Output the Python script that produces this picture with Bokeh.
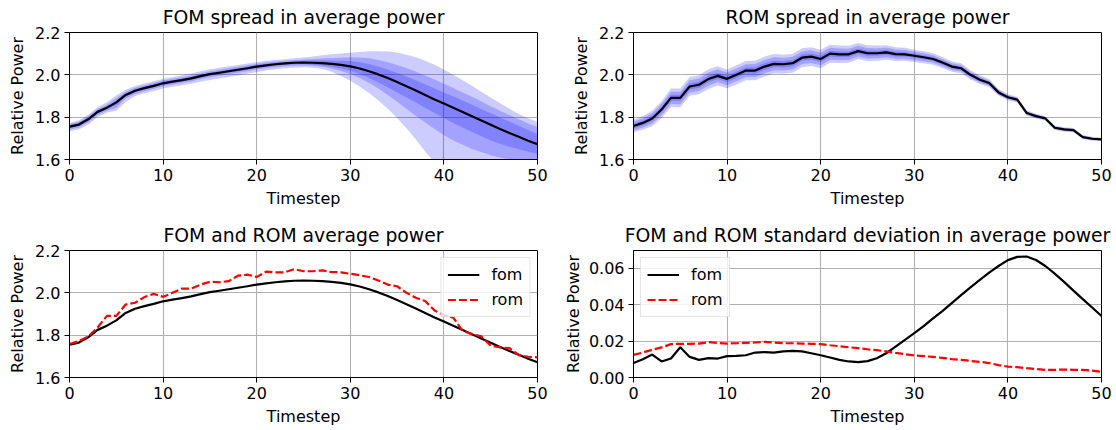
from bokeh.plotting import figure
from bokeh.models import Range1d, FixedTicker, NumeralTickFormatter
from bokeh.layouts import gridplot
from bokeh.embed import file_html
from bokeh.resources import INLINE

FONT = "DejaVu Sans"

# ---------------- data ----------------
timestep = list(range(51))

x_ticks = [0, 10, 20, 30, 40, 50]
power_ticks = [1.6, 1.8, 2.0, 2.2]
std_ticks = [0.0, 0.02, 0.04, 0.06]

fom_mean = [1.755, 1.765, 1.79, 1.825, 1.845, 1.87, 1.905, 1.925, 1.937, 1.948,
            1.96, 1.968, 1.975, 1.983, 1.994, 2.003, 2.01, 2.017, 2.024, 2.031,
            2.039, 2.045, 2.05, 2.054, 2.057, 2.058, 2.057, 2.055, 2.052, 2.047,
            2.04, 2.03, 2.017, 2.002, 1.985, 1.966, 1.946, 1.926, 1.905, 1.884,
            1.864, 1.844, 1.824, 1.804, 1.784, 1.764, 1.744, 1.725, 1.707, 1.689, 1.672]

fom_outer_hi = [1.773, 1.785, 1.812, 1.848, 1.87, 1.902, 1.93, 1.947, 1.959, 1.97,
                1.982, 1.99, 1.998, 2.006, 2.017, 2.026, 2.033, 2.04, 2.047, 2.053,
                2.06, 2.066, 2.07, 2.074, 2.078, 2.082,
                2.087, 2.092, 2.097, 2.101, 2.104, 2.108, 2.111, 2.112, 2.11, 2.105,
                2.095, 2.083, 2.067, 2.048, 2.025, 2.0, 1.975, 1.948, 1.92, 1.893,
                1.866, 1.84, 1.815, 1.795, 1.778]
fom_outer_lo = [1.733, 1.742, 1.765, 1.80, 1.822, 1.83, 1.872, 1.9, 1.913, 1.924,
                1.935, 1.944, 1.951, 1.958, 1.967, 1.976, 1.983, 1.99, 1.997, 2.005,
                2.013, 2.02, 2.026, 2.031, 2.034, 2.036,
                2.034, 2.027, 2.014, 1.995, 1.972, 1.945, 1.914, 1.879, 1.84, 1.796,
                1.748, 1.694, 1.638, 1.585, 1.55, 1.53, 1.51, 1.49, 1.475, 1.46,
                1.45, 1.44, 1.435, 1.43, 1.425]
fom_mid_hi = [1.768, 1.778, 1.804, 1.839, 1.86, 1.89, 1.92, 1.939, 1.951, 1.962,
              1.974, 1.982, 1.989, 1.997, 2.008, 2.017, 2.024, 2.031, 2.038, 2.045,
              2.052, 2.058, 2.063, 2.067, 2.07, 2.073,
              2.075, 2.077, 2.079, 2.081, 2.083, 2.082, 2.078, 2.07, 2.06, 2.047,
              2.032, 2.015, 1.997, 1.978, 1.958, 1.938, 1.917, 1.896, 1.874, 1.852,
              1.83, 1.81, 1.79, 1.77, 1.753]
fom_mid_lo = [1.741, 1.751, 1.775, 1.81, 1.83, 1.845, 1.888, 1.91, 1.923, 1.934,
              1.946, 1.954, 1.961, 1.969, 1.98, 1.989, 1.996, 2.003, 2.01, 2.017,
              2.025, 2.031, 2.036, 2.04, 2.043, 2.044,
              2.043, 2.038, 2.03, 2.018, 2.004, 1.985, 1.962, 1.935, 1.905, 1.873,
              1.84, 1.807, 1.775, 1.744, 1.715, 1.69, 1.67, 1.65, 1.635, 1.62,
              1.61, 1.60, 1.59, 1.585, 1.58]
fom_in_hi = [1.762, 1.772, 1.797, 1.832, 1.852, 1.878, 1.912, 1.932, 1.944, 1.955,
             1.967, 1.975, 1.982, 1.99, 2.001, 2.01, 2.017, 2.024, 2.031, 2.038,
             2.046, 2.052, 2.057, 2.061, 2.064, 2.066,
             2.068, 2.068, 2.067, 2.066, 2.065, 2.06, 2.051, 2.039, 2.025, 2.009,
             1.992, 1.974, 1.955, 1.936, 1.917, 1.898, 1.879, 1.859, 1.839, 1.819,
             1.799, 1.779, 1.759, 1.739, 1.72]
fom_in_lo = [1.748, 1.758, 1.783, 1.818, 1.838, 1.858, 1.897, 1.918, 1.93, 1.941,
             1.953, 1.961, 1.968, 1.976, 1.987, 1.996, 2.003, 2.01, 2.017, 2.024,
             2.032, 2.038, 2.043, 2.047, 2.05, 2.051,
             2.048, 2.044, 2.038, 2.03, 2.02, 2.004, 1.985, 1.964, 1.941, 1.917,
             1.893, 1.869, 1.845, 1.82, 1.796, 1.773, 1.751, 1.73, 1.71, 1.69,
             1.675, 1.66, 1.648, 1.637, 1.627]

rom_mean = [1.758, 1.773, 1.794, 1.836, 1.891, 1.891, 1.945, 1.953, 1.98, 1.995,
            1.981, 2.0, 2.02, 2.02, 2.039, 2.052, 2.05, 2.055, 2.081, 2.086,
            2.075, 2.1, 2.097, 2.097, 2.112, 2.102, 2.102, 2.106, 2.098, 2.097,
            2.09, 2.083, 2.075, 2.058, 2.039, 2.031, 2.0, 1.977, 1.961, 1.917,
            1.894, 1.883, 1.82, 1.805, 1.794, 1.75, 1.742, 1.739, 1.706, 1.698, 1.695]

fom_std = [0.0079, 0.010, 0.0126, 0.0088, 0.0104, 0.0166, 0.0113, 0.0097, 0.0106, 0.0104,
           0.0117, 0.0119, 0.0122, 0.0137, 0.0139, 0.0137, 0.0143, 0.0146, 0.0143, 0.0133,
           0.0122, 0.011, 0.0097, 0.0088, 0.0084, 0.009, 0.0106, 0.0133, 0.017, 0.0207,
           0.0243, 0.0282, 0.0324, 0.0364, 0.0408, 0.0452, 0.0495, 0.0536, 0.0576, 0.0612,
           0.0644, 0.0662, 0.0664, 0.0645, 0.0612, 0.057, 0.0525, 0.0477, 0.043, 0.0384, 0.0338]

rom_std = [0.0124, 0.0137, 0.0152, 0.0165, 0.0183, 0.0185, 0.0185, 0.0186, 0.0194, 0.019,
           0.0186, 0.0188, 0.019, 0.0192, 0.0196, 0.0192, 0.0188, 0.0188, 0.0186, 0.0185,
           0.0183, 0.0177, 0.0172, 0.0166, 0.0161, 0.0155, 0.015, 0.0143, 0.0135, 0.0128,
           0.0121, 0.0117, 0.0113, 0.0108, 0.0101, 0.0097, 0.0091, 0.0086, 0.0079, 0.0068,
           0.006, 0.0057, 0.0051, 0.0046, 0.0042, 0.0042, 0.0044, 0.0042, 0.0042, 0.0038, 0.0031]

rom_band_widths = [0.8, 1.6, 2.4]  # band half-widths in units of ROM std

# ---------------- styling helpers ----------------
LABEL_SIZE = "16px"
TITLE_SIZE = "18.8px"
LW = 2.2


def make_fig(title, y_lo, y_hi, yticks, fmt, left, right, top, bottom):
    p = figure(frame_width=468, frame_height=127,
               min_border_left=left, min_border_right=right,
               min_border_top=top, min_border_bottom=bottom,
               x_range=Range1d(0, 50), y_range=Range1d(y_lo, y_hi),
               output_backend="svg", toolbar_location=None, title=title)
    p.background_fill_color = "white"
    p.border_fill_color = "white"
    p.outline_line_color = "black"
    p.outline_line_width = 1
    p.outline_line_alpha = 1
    p.title.text_font = FONT
    p.title.text_font_size = TITLE_SIZE
    p.title.text_font_style = "normal"
    p.title.text_color = "black"
    p.title.align = "center"
    p.title.standoff = 9
    p.xaxis.ticker = FixedTicker(ticks=x_ticks)
    p.yaxis.ticker = FixedTicker(ticks=yticks)
    p.yaxis.formatter = NumeralTickFormatter(format=fmt)
    p.xaxis.axis_label = "Timestep"
    p.yaxis.axis_label = "Relative Power"
    for ax in (p.xaxis, p.yaxis):
        ax.axis_label_text_font = FONT
        ax.axis_label_text_font_size = LABEL_SIZE
        ax.axis_label_text_font_style = "normal"
        ax.axis_label_text_color = "black"
        ax.major_label_text_font = FONT
        ax.major_label_text_font_size = LABEL_SIZE
        ax.major_label_text_color = "black"
        ax.major_tick_in = 0
        ax.major_tick_out = 5
        ax.minor_tick_in = 0
        ax.minor_tick_out = 0
        ax.axis_line_color = "black"
        ax.major_tick_line_color = "black"
        ax.major_label_standoff = 4
        ax.axis_label_standoff = 5
    for g in (p.xgrid, p.ygrid):
        g.grid_line_color = "#b0b0b0"
        g.grid_line_width = 1.1
    return p


def style_legend(p, loc):
    lg = p.legend[0]
    lg.location = loc
    lg.margin = 7
    lg.padding = 6
    lg.spacing = 4
    lg.glyph_width = 32
    lg.glyph_height = 21
    lg.label_height = 21
    lg.label_standoff = 12
    lg.label_text_font = FONT
    lg.label_text_font_size = LABEL_SIZE
    lg.label_text_color = "black"
    lg.border_line_color = "#cccccc"
    lg.border_line_width = 1
    lg.background_fill_alpha = 0.8


BLUE = "#0000ff"
BAND_ALPHA = 0.2

# ---------------- panel 1: FOM spread ----------------
p1 = make_fig("FOM spread in average power", 1.6, 2.2, power_ticks, "0.0", 69, 23, 32, 56)
for lo, hi in ((fom_outer_lo, fom_outer_hi), (fom_mid_lo, fom_mid_hi), (fom_in_lo, fom_in_hi)):
    p1.varea(x=timestep, y1=lo, y2=hi, fill_color=BLUE, fill_alpha=BAND_ALPHA)
p1.line(timestep, fom_mean, line_color="black", line_width=LW)

# ---------------- panel 2: ROM spread ----------------
p2 = make_fig("ROM spread in average power", 1.6, 2.2, power_ticks, "0.0", 73, 15, 32, 56)
for k in rom_band_widths:
    lo = [m - k * s for m, s in zip(rom_mean, rom_std)]
    hi = [m + k * s for m, s in zip(rom_mean, rom_std)]
    p2.varea(x=timestep, y1=lo, y2=hi, fill_color=BLUE, fill_alpha=BAND_ALPHA)
p2.line(timestep, rom_mean, line_color="black", line_width=LW)

# ---------------- panel 3: means ----------------
p3 = make_fig("FOM and ROM average power", 1.6, 2.2, power_ticks, "0.0", 69, 23, 35, 53)
p3.line(timestep, fom_mean, line_color="black", line_width=LW, legend_label="fom")
p3.line(timestep, rom_mean, line_color="#ff0000", line_width=LW, line_dash="8 3", legend_label="rom")
style_legend(p3, "top_right")

# ---------------- panel 4: standard deviations ----------------
p4 = make_fig("FOM and ROM standard deviation in average power", 0.0, 0.0697, std_ticks, "0.00", 73, 15, 35, 53)
p4.yaxis.axis_label_standoff = 3
p4.line(timestep, fom_std, line_color="black", line_width=LW, legend_label="fom")
p4.line(timestep, rom_std, line_color="#ff0000", line_width=LW, line_dash="8 3", legend_label="rom")
style_legend(p4, "top_left")

grid = gridplot([[p1, p2], [p3, p4]], toolbar_location=None)

open("out.html", "w").write(file_html(grid, INLINE))
